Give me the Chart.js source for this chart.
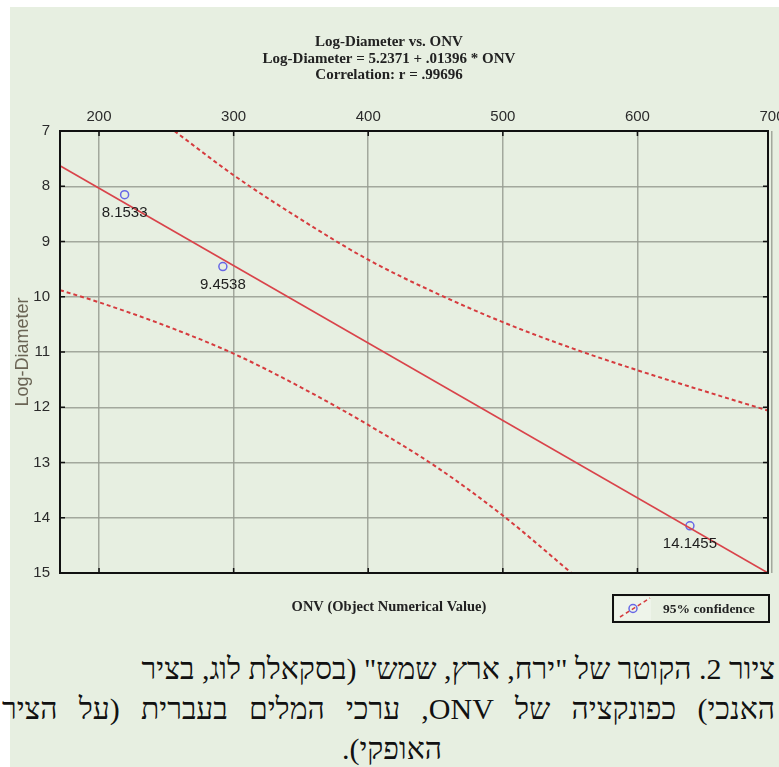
<!DOCTYPE html>
<html>
<head>
<meta charset="utf-8">
<script src="https://cdn.jsdelivr.net/npm/chart.js@4"></script>
<style>
    body { margin: 0; background: #fff; width: 779px; height: 767px; overflow: hidden; position: relative; }
    #panel { position: absolute; left: 10px; top: 7px; width: 769px; height: 760px; background: #e7efe1; }
    #wrap { position: absolute; left: 0; top: 0; width: 769px; height: 625px; }
    .cap { position: absolute; font-family: "Liberation Serif", serif; font-size: 30px; color: #111; white-space: nowrap; direction: rtl; }
    .just { width: 773px; text-align: justify; text-align-last: justify; white-space: normal; }
</style>
</head>
<body>
<div id="panel">
    <div id="wrap"><canvas id="onvChart" width="769" height="625"></canvas></div>
    <div class="cap" style="right: 4px; top: 645px;">ציור 2. הקוטר של "ירח, ארץ, שמש" (בסקאלת לוג, בציר</div>
    <div class="cap just" style="right: 4px; top: 685px;">האנכי) כפונקציה של ONV, ערכי המלים בעברית (על הציר</div>
    <div class="cap" style="left: 0; width: 764px; text-align: center; top: 725px;">האופקי).</div>
</div>
<script>
// Scatter: word values vs log-diameter
const onvValues = [219, 292, 639];
const logDiameter = [8.1533, 9.4538, 14.1455];
const pointLabels = ['8.1533', '9.4538', '14.1455'];

// Regression line ends (read at the plot edges)
const fitOnv = [171, 697];
const fitLog = [7.63, 15.0];

// 95% confidence band, upper and lower curves
const upperOnv = [256, 300, 350, 400, 450, 500, 550, 600, 650, 697];
const upperLog = [7.0, 7.8, 8.6, 9.33, 9.93, 10.46, 10.92, 11.33, 11.71, 12.06];
const lowerOnv = [171, 200, 250, 300, 350, 400, 450, 500, 551];
const lowerLog = [9.88, 10.1, 10.53, 11.03, 11.64, 12.32, 13.07, 13.96, 15.0];

// Axis ticks
const xTicks = [200, 300, 400, 500, 600, 700];
const yTicks = [7, 8, 9, 10, 11, 12, 13, 14, 15];

const colors = {
    fit: '#d9434a',
    band: '#d63b3e',
    point: '#6767e6',
    grid: 'rgba(150, 155, 145, 0.85)',
    text: '#2b2b2b'
};

function toXY(xs, ys) {
    return xs.map((x, i) => ({ x: x, y: ys[i] }));
}

// Frame with inward tick marks, point labels, boxed legend
const decorPlugin = {
    id: 'decor',
    afterDatasetsDraw(chart) {
        const ctx = chart.ctx;
        const meta = chart.getDatasetMeta(3);
        ctx.save();
        ctx.font = '15px "Liberation Sans", Arial, sans-serif';
        ctx.fillStyle = '#1e1e1e';
        ctx.textAlign = 'center';
        ctx.textBaseline = 'middle';
        meta.data.forEach((pt, i) => {
            ctx.fillText(pointLabels[i], pt.x, pt.y + 18);
        });
        ctx.restore();
    },
    afterDraw(chart) {
        const ctx = chart.ctx;
        const a = chart.chartArea;
        const xs = chart.scales.x;
        const ys = chart.scales.y;
        ctx.save();
        ctx.strokeStyle = '#111';
        ctx.lineWidth = 2;
        ctx.strokeRect(a.left, a.top, a.right - a.left, a.bottom - a.top);
        ctx.lineWidth = 1.5;
        ctx.beginPath();
        xTicks.forEach(v => {
            const px = xs.getPixelForValue(v);
            if (px > a.right - 1) return;
            ctx.moveTo(px, a.top); ctx.lineTo(px, a.top + 5);
            ctx.moveTo(px, a.bottom); ctx.lineTo(px, a.bottom - 5);
        });
        yTicks.forEach(v => {
            const py = ys.getPixelForValue(v);
            ctx.moveTo(a.left, py); ctx.lineTo(a.left + 5, py);
            ctx.moveTo(a.right, py); ctx.lineTo(a.right - 5, py);
        });
        ctx.stroke();

        // legend box
        const lx = 603, ly = 588, lw = 156, lh = 27;
        ctx.fillStyle = '#eef4ea';
        ctx.fillRect(lx + 2, ly + 2, 36, lh - 4);
        ctx.strokeStyle = '#111';
        ctx.lineWidth = 2;
        ctx.strokeRect(lx, ly, lw, lh);
        ctx.strokeStyle = colors.band;
        ctx.lineWidth = 1.5;
        ctx.setLineDash([4, 3]);
        ctx.beginPath();
        ctx.moveTo(lx + 7, ly + 22);
        ctx.lineTo(lx + 37, ly + 3);
        ctx.stroke();
        ctx.setLineDash([]);
        ctx.strokeStyle = colors.point;
        ctx.beginPath();
        ctx.arc(lx + 20, ly + 13.5, 4, 0, Math.PI * 2);
        ctx.stroke();
        ctx.fillStyle = '#222';
        ctx.font = 'bold 13.5px "Liberation Serif", serif';
        ctx.textAlign = 'left';
        ctx.textBaseline = 'middle';
        ctx.fillText('95% confidence', lx + 50, ly + 15);
        ctx.restore();
    }
};

const ctx = document.getElementById('onvChart');
new Chart(ctx, {
    type: 'scatter',
    data: {
        datasets: [
            {
                label: 'Fit',
                type: 'line',
                data: toXY(fitOnv, fitLog),
                borderColor: colors.fit,
                borderWidth: 1.6,
                pointRadius: 0,
                fill: false
            },
            {
                label: 'Upper 95%',
                type: 'line',
                data: toXY(upperOnv, upperLog),
                borderColor: colors.band,
                borderWidth: 2,
                borderDash: [4, 3],
                pointRadius: 0,
                cubicInterpolationMode: 'monotone',
                fill: false
            },
            {
                label: 'Lower 95%',
                type: 'line',
                data: toXY(lowerOnv, lowerLog),
                borderColor: colors.band,
                borderWidth: 2,
                borderDash: [4, 3],
                pointRadius: 0,
                cubicInterpolationMode: 'monotone',
                fill: false
            },
            {
                label: 'Words',
                data: toXY(onvValues, logDiameter),
                borderColor: colors.point,
                backgroundColor: 'rgba(0,0,0,0)',
                borderWidth: 1.5,
                pointRadius: 4,
                pointHoverRadius: 4
            }
        ]
    },
    options: {
        responsive: false,
        animation: false,
        layout: {
            padding: { left: 0, right: 11, top: 0, bottom: 0 }
        },
        plugins: {
            legend: { display: false },
            tooltip: { enabled: false },
            title: {
                display: true,
                text: ['Log-Diameter vs. ONV', 'Log-Diameter = 5.2371 + .01396 * ONV', 'Correlation: r = .99696'],
                color: '#222',
                font: { family: '"Liberation Serif", serif', size: 15, weight: 'bold', lineHeight: 1.1 },
                padding: { top: 27, bottom: 0 }
            },
            subtitle: {
                display: true,
                position: 'bottom',
                text: 'ONV (Object Numerical Value)',
                color: '#222',
                font: { family: '"Liberation Serif", serif', size: 14.5, weight: 'bold', lineHeight: 1.2 },
                padding: { top: 26, bottom: 15.6 }
            }
        },
        scales: {
            x: {
                type: 'linear',
                position: 'top',
                min: 171,
                max: 697,
                afterBuildTicks: scale => { scale.ticks = xTicks.map(v => ({ value: v })); },
                afterFit: scale => {
                    scale.height = 47.5;
                    scale.paddingLeft = 0;
                    scale.paddingRight = 0;
                },
                grid: { color: colors.grid, lineWidth: 1.5, drawTicks: false },
                border: { display: false },
                ticks: {
                    padding: 5,
                    color: colors.text,
                    font: { family: '"Liberation Sans", Arial, sans-serif', size: 15 }
                }
            },
            y: {
                type: 'linear',
                reverse: true,
                min: 7,
                max: 15,
                afterBuildTicks: scale => { scale.ticks = yTicks.map(v => ({ value: v })); },
                afterFit: scale => {
                    scale.width = 50;
                    scale.paddingTop = 0;
                    scale.paddingBottom = 0;
                },
                grid: { color: colors.grid, lineWidth: 1.5, drawTicks: false },
                border: { display: false },
                title: {
                    display: true,
                    text: 'Log-Diameter',
                    color: '#6b6555',
                    font: { family: '"Liberation Sans", Arial, sans-serif', size: 18 },
                    padding: { top: 2, bottom: 0 }
                },
                ticks: {
                    padding: 10,
                    color: colors.text,
                    font: { family: '"Liberation Sans", Arial, sans-serif', size: 15 }
                }
            }
        }
    },
    plugins: [decorPlugin]
});
</script>
</body>
</html>
